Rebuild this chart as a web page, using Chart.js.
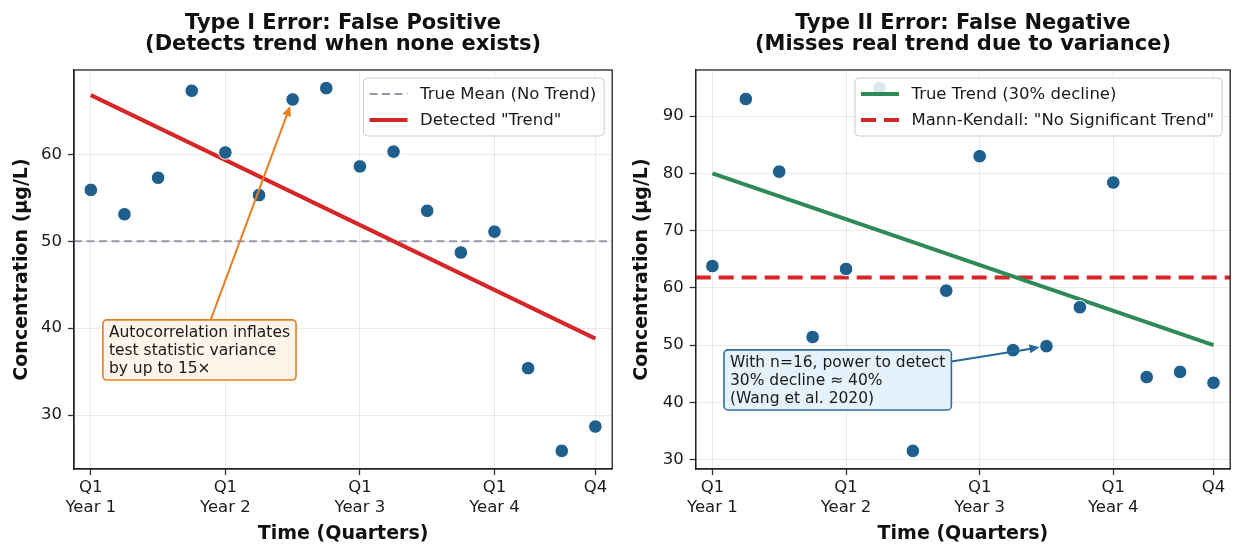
<!DOCTYPE html>
<html>
<head>
<meta charset="utf-8">
<script src="https://cdn.jsdelivr.net/npm/chart.js@4.4.1/dist/chart.umd.min.js"></script>
<style>
html,body{margin:0;padding:0;background:#fff;width:1238px;height:546px;overflow:hidden;}
canvas{position:absolute;top:0;}
#c1{left:0;}
#c2{left:620px;}
</style>
</head>
<body>
<canvas id="c1" width="620" height="546"></canvas>
<canvas id="c2" width="618" height="546"></canvas>
<script>
// ---------- data ----------
const quarterIndex = [0, 1, 2, 3, 4, 5, 6, 7, 8, 9, 10, 11, 12, 13, 14, 15];
const xTickValues = [0, 4, 8, 12, 15];
const xTickLabels = [['Q1', 'Year 1'], ['Q1', 'Year 2'], ['Q1', 'Year 3'], ['Q1', 'Year 4'], ['Q4']];
const xLimits = [-0.5, 15.5];

const leftValues = [55.9, 53.1, 57.3, 67.3, 60.2, 55.3, 66.3, 67.6, 58.6, 60.3, 53.5, 48.7, 51.1, 35.4, 25.9, 28.7];
const leftTrendX = [0, 15];
const leftTrendY = [66.8, 38.8];
const leftTrueMean = 50;
const leftYTicks = [30, 40, 50, 60];

const rightValues = [63.8, 93.0, 80.3, 51.4, 63.3, 94.9, 31.5, 59.5, 83.0, 49.1, 49.8, 56.6, 78.4, 44.4, 45.3, 43.4];
const rightTrendX = [0, 15];
const rightTrendY = [80, 50];
const rightMKLevel = 61.8;
const rightYTicks = [30, 40, 50, 60, 70, 80, 90];

const leftTitle = ['Type I Error: False Positive', '(Detects trend when none exists)'];
const rightTitle = ['Type II Error: False Negative', '(Misses real trend due to variance)'];
const leftNoteLines = ['Autocorrelation inflates', 'test statistic variance', 'by up to 15\u00d7'];
const rightNoteLines = ['With n=16, power to detect', '30% decline \u2248 40%', '(Wang et al. 2020)'];
const leftNoteAt = [3.23, 37.5];
const rightNoteAt = [3.75, 43.9];
const leftNoteTarget = 6;
const rightNoteTarget = 10;

// ---------- style ----------
const FONT = "'DejaVu Sans', sans-serif";
Chart.defaults.font.family = FONT;
Chart.defaults.color = '#1a1a1a';
const DOT = '#1f5f8e';

function pts(xs, ys) { return xs.map((x, i) => ({x: x, y: ys[i]})); }
function yRange(arrs) {
  const all = [].concat(...arrs);
  const lo = Math.min(...all), hi = Math.max(...all);
  const m = (hi - lo) * 0.05;
  return [lo - m, hi + m];
}

function roundRect(ctx, x, y, w, h, r) {
  ctx.beginPath();
  ctx.moveTo(x + r, y);
  ctx.lineTo(x + w - r, y);
  ctx.arcTo(x + w, y, x + w, y + r, r);
  ctx.lineTo(x + w, y + h - r);
  ctx.arcTo(x + w, y + h, x + w - r, y + h, r);
  ctx.lineTo(x + r, y + h);
  ctx.arcTo(x, y + h, x, y + h - r, r);
  ctx.lineTo(x, y + r);
  ctx.arcTo(x, y, x + r, y, r);
  ctx.closePath();
}

function drawNote(chart, n) {
  const ctx = chart.ctx, xs = chart.scales.x, ys = chart.scales.y;
  const pointDs = chart.data.datasets[0].data[n.target];
  ctx.save();
  ctx.font = n.size + 'px ' + FONT;
  const tw = Math.max(...n.lines.map(l => ctx.measureText(l).width));
  const w = tw + 2 * n.padX;
  const h = n.lines.length * n.lineH + 2 * n.padY;
  const cx = xs.getPixelForValue(n.at[0]);
  const cy = ys.getPixelForValue(n.at[1]);
  const L = cx - w / 2, T = cy - h / 2;
  const tx = xs.getPixelForValue(pointDs.x), ty = ys.getPixelForValue(pointDs.y);
  const dx = tx - cx, dy = ty - cy, len = Math.hypot(dx, dy);
  const ux = dx / len, uy = dy / len;
  const t1 = ux !== 0 ? Math.abs((w / 2) / ux) : Infinity;
  const t2 = uy !== 0 ? Math.abs((h / 2) / uy) : Infinity;
  const te = Math.min(t1, t2);
  const sx = cx + ux * te, sy = cy + uy * te;
  const ex = tx - ux * n.shrink, ey = ty - uy * n.shrink;
  const hl = 10, hw = 4.5;
  ctx.strokeStyle = n.arrow;
  ctx.fillStyle = n.arrow;
  ctx.lineWidth = 2;
  ctx.beginPath();
  ctx.moveTo(sx, sy);
  ctx.lineTo(ex - ux * hl * 0.7, ey - uy * hl * 0.7);
  ctx.stroke();
  ctx.beginPath();
  ctx.moveTo(ex, ey);
  ctx.lineTo(ex - ux * hl - uy * hw, ey - uy * hl + ux * hw);
  ctx.lineTo(ex - ux * hl + uy * hw, ey - uy * hl - ux * hw);
  ctx.closePath();
  ctx.fill();
  roundRect(ctx, L, T, w, h, 4);
  ctx.fillStyle = n.fill;
  ctx.fill();
  ctx.lineWidth = 1.6;
  ctx.strokeStyle = n.border;
  ctx.stroke();
  ctx.fillStyle = '#1a1a1a';
  ctx.textAlign = 'left';
  ctx.textBaseline = 'alphabetic';
  n.lines.forEach((l, i) => ctx.fillText(l, L + n.padX, T + n.firstBase + i * n.lineH));
  ctx.restore();
}

function drawLegend(chart, lg) {
  const ctx = chart.ctx, a = chart.chartArea;
  const items = chart.data.datasets.filter(d => d.inLegend);
  ctx.save();
  ctx.font = lg.size + 'px ' + FONT;
  const tw = Math.max(...items.map(d => ctx.measureText(d.label).width));
  const W = lg.padL + lg.handle + lg.gap + tw + lg.padR;
  const H = lg.rowH * items.length + 2 * lg.padY;
  const R = a.right - 8, T = a.top + 8, L = R - W;
  roundRect(ctx, L, T, W, H, 4);
  ctx.fillStyle = 'rgba(255,255,255,0.85)';
  ctx.fill();
  ctx.strokeStyle = '#cccccc';
  ctx.lineWidth = 1;
  ctx.stroke();
  items.forEach((d, i) => {
    const cy = T + lg.padY + lg.rowH * (i + 0.5);
    ctx.save();
    ctx.strokeStyle = d.borderColor;
    ctx.lineWidth = d.borderWidth;
    ctx.setLineDash(d.borderDash || []);
    ctx.beginPath();
    ctx.moveTo(L + lg.padL, cy);
    ctx.lineTo(L + lg.padL + lg.handle, cy);
    ctx.stroke();
    ctx.restore();
    ctx.fillStyle = '#1a1a1a';
    ctx.textAlign = 'left';
    ctx.textBaseline = 'middle';
    ctx.fillText(d.label, L + lg.padL + lg.handle + lg.gap, cy + 1);
  });
  ctx.restore();
}

const decorPlugin = {
  id: 'decor',
  afterDatasetsDraw(chart, args, opts) {
    const ctx = chart.ctx, a = chart.chartArea;
    drawNote(chart, opts.note);
    ctx.save();
    ctx.strokeStyle = '#222';
    ctx.lineWidth = 1.3;
    ctx.strokeRect(a.left, a.top, a.right - a.left, a.bottom - a.top);
    ctx.restore();
    drawLegend(chart, opts.legend);
  },
  afterDraw(chart, args, opts) {
    const ctx = chart.ctx, a = chart.chartArea;
    ctx.save();
    ctx.font = 'bold 21px ' + FONT;
    ctx.fillStyle = '#111';
    ctx.textAlign = 'center';
    ctx.textBaseline = 'alphabetic';
    const cx = (a.left + a.right) / 2;
    ctx.fillText(opts.title[0], cx, 28.5);
    ctx.fillText(opts.title[1], cx, 50);
    ctx.restore();
  }
};

function makeChart(id, cfg) {
  const yr = yRange([cfg.values, cfg.extraY]);
  return new Chart(document.getElementById(id), {
    type: 'scatter',
    data: {
      datasets: [
        {
          data: pts(quarterIndex, cfg.values),
          backgroundColor: DOT,
          borderColor: '#ffffff',
          borderWidth: 1,
          pointRadius: 6.8,
          order: 0
        }
      ].concat(cfg.lines)
    },
    options: {
      responsive: false,
      animation: false,
      devicePixelRatio: 1,
      events: [],
      layout: {padding: {left: 7, top: 70, right: cfg.padRight, bottom: 0}},
      plugins: {
        legend: {display: false},
        tooltip: {enabled: false},
        title: {display: false},
        decor: {title: cfg.title, note: cfg.note, legend: {size: 16.5, padL: 6, handle: 38, gap: 12.5, padR: 8, rowH: 26, padY: 3}}
      },
      scales: {
        x: {
          type: 'linear',
          min: xLimits[0],
          max: xLimits[1],
          afterBuildTicks: s => { s.ticks = xTickValues.map(v => ({value: v})); },
          afterFit: s => { s.height = 77; },
          ticks: {
            autoSkip: false,
            maxRotation: 0,
            padding: 3,
            font: {size: 16.5, lineHeight: 1.21},
            color: '#1a1a1a',
            callback: v => xTickLabels[xTickValues.indexOf(v)]
          },
          grid: {color: 'rgba(0,0,0,0.08)', lineWidth: 1, tickLength: 6, tickColor: '#333', tickWidth: 1.3},
          border: {display: true, color: '#222', width: 1.3},
          title: {display: true, text: 'Time (Quarters)', font: {size: 19, weight: 'bold'}, color: '#111', padding: {top: 4, bottom: 1}}
        },
        y: {
          type: 'linear',
          min: yr[0],
          max: yr[1],
          afterBuildTicks: s => { s.ticks = cfg.yTicks.map(v => ({value: v})); },
          afterFit: s => { s.width = cfg.yWidth; },
          ticks: {padding: 6, font: {size: 16.5}, color: '#1a1a1a'},
          grid: {color: 'rgba(0,0,0,0.08)', lineWidth: 1, tickLength: 6, tickColor: '#333', tickWidth: 1.3},
          border: {display: true, color: '#222', width: 1.3},
          title: {display: true, text: 'Concentration (\u00b5g/L)', font: {size: 19, weight: 'bold'}, color: '#111', padding: {top: 4, bottom: 4}}
        }
      }
    },
    plugins: [decorPlugin]
  });
}

makeChart('c1', {
  values: leftValues,
  extraY: leftTrendY,
  yTicks: leftYTicks,
  yWidth: 67,
  padRight: 5,
  title: leftTitle,
  lines: [
    {
      label: 'True Mean (No Trend)', inLegend: true,
      data: pts(xLimits, [leftTrueMean, leftTrueMean]),
      showLine: true, pointRadius: 0, borderColor: '#9696ac', borderWidth: 2.2, borderDash: [8, 4.5], order: 2
    },
    {
      label: 'Detected "Trend"', inLegend: true,
      data: pts(leftTrendX, leftTrendY),
      showLine: true, pointRadius: 0, borderColor: '#d62728', borderWidth: 4, order: 1
    }
  ],
  note: {
    lines: leftNoteLines, at: leftNoteAt, target: leftNoteTarget,
    size: 15.5, lineH: 17.7, padX: 6, padY: 3.5, firstBase: 17.3, shrink: 7,
    arrow: '#e67e22', border: '#e67e22', fill: '#fef4ea'
  }
});

makeChart('c2', {
  values: rightValues,
  extraY: rightTrendY,
  yTicks: rightYTicks,
  yWidth: 68.7,
  padRight: 1.3,
  title: rightTitle,
  lines: [
    {
      label: 'True Trend (30% decline)', inLegend: true,
      data: pts(rightTrendX, rightTrendY),
      showLine: true, pointRadius: 0, borderColor: '#2e8b57', borderWidth: 4, order: 1
    },
    {
      label: 'Mann-Kendall: "No Significant Trend"', inLegend: true,
      data: pts(xLimits, [rightMKLevel, rightMKLevel]),
      showLine: true, pointRadius: 0, borderColor: '#d62728', borderWidth: 4, borderDash: [15, 8], order: 2
    }
  ],
  note: {
    lines: rightNoteLines, at: rightNoteAt, target: rightNoteTarget,
    size: 15.5, lineH: 17.7, padX: 6, padY: 3.5, firstBase: 17.3, shrink: 7,
    arrow: '#26679a', border: '#2f6f9f', fill: '#e6f2fb'
  }
});
</script>
</body>
</html>
